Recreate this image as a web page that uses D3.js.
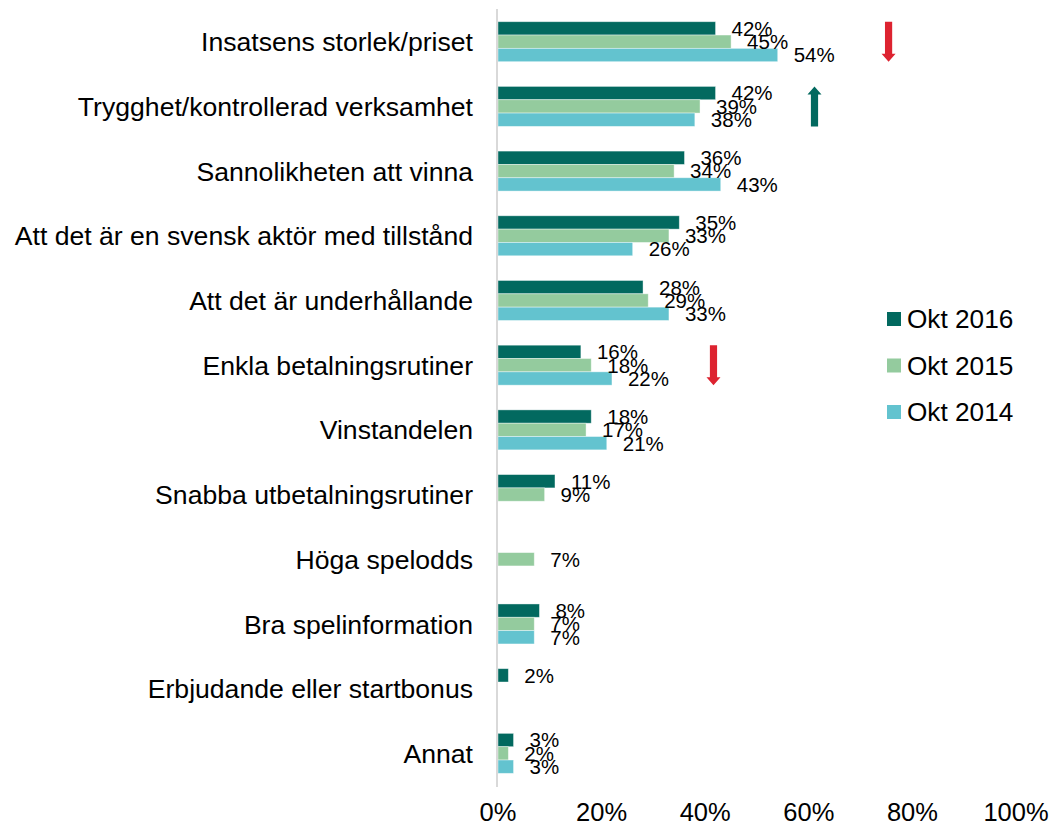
<!DOCTYPE html>
<html>
<head>
<meta charset="utf-8">
<script src="https://cdn.jsdelivr.net/npm/d3@7"></script>
<style>
  body { margin: 0; background: #fff; }
  svg text { font-family: "Liberation Sans", Arial, sans-serif; fill: #000; }
</style>
</head>
<body>
<div id="chart"></div>
<script>
// Data
const categories = [
  "Insatsens storlek/priset",
  "Trygghet/kontrollerad verksamhet",
  "Sannolikheten att vinna",
  "Att det är en svensk aktör med tillstånd",
  "Att det är underhållande",
  "Enkla betalningsrutiner",
  "Vinstandelen",
  "Snabba utbetalningsrutiner",
  "Höga spelodds",
  "Bra spelinformation",
  "Erbjudande eller startbonus",
  "Annat"
];
const seriesNames = ["Okt 2016", "Okt 2015", "Okt 2014"];
const okt2016 = [42, 42, 36, 35, 28, 16, 18, 11, null, 8, 2, 3];
const okt2015 = [45, 39, 34, 33, 29, 18, 17, 9, 7, 7, null, 2];
const okt2014 = [54, 38, 43, 26, 33, 22, 21, null, null, 7, null, 3];
const xTicks = [0, 20, 40, 60, 80, 100];
const colors = ["#02695f", "#94cb9e", "#63c3cf"];

// significance arrows: category, direction, horizontal spot in %
const arrows = [
  { cat: "Insatsens storlek/priset", dir: "down", at: 75.4 },
  { cat: "Trygghet/kontrollerad verksamhet", dir: "up", at: 61.1 },
  { cat: "Enkla betalningsrutiner", dir: "down", at: 41.6 }
];
const arrowColors = { up: "#02695f", down: "#dd2330" };

const width = 1052, height = 830;
const svg = d3.select("#chart").append("svg")
  .attr("width", width)
  .attr("height", height);

const x = d3.scaleLinear().domain([0, 100]).range([498, 1016]);
const y = d3.scaleBand().domain(categories).range([9.35, 785.7])
  .paddingInner(0.382).paddingOuter(0.191);
const ySub = d3.scaleBand().domain(seriesNames).range([0, y.bandwidth()]);

const series = [okt2016, okt2015, okt2014].map((vals, i) => ({
  name: seriesNames[i],
  color: colors[i],
  values: vals
}));

// bars
const groups = svg.append("g").selectAll("g")
  .data(categories)
  .join("g")
  .attr("transform", d => `translate(0,${y(d)})`);

groups.each(function(cat, ci) {
  const g = d3.select(this);
  const rows = series
    .map(s => ({ name: s.name, color: s.color, v: s.values[ci] }))
    .filter(r => r.v != null);

  g.selectAll("rect")
    .data(rows)
    .join("rect")
    .attr("x", x(0))
    .attr("y", r => ySub(r.name))
    .attr("width", r => x(r.v) - x(0))
    .attr("height", ySub.bandwidth())
    .attr("fill", r => r.color)
    .attr("stroke", "#ffffff")
    .attr("stroke-opacity", 0.5)
    .attr("stroke-width", 0.8);

  g.selectAll("text")
    .data(rows)
    .join("text")
    .attr("x", r => x(r.v) + 16)
    .attr("y", r => ySub(r.name) + ySub.bandwidth() / 2)
    .attr("dy", "0.36em")
    .attr("font-size", 20.5)
    .text(r => r.v + "%");
});

// vertical axis line
svg.append("line")
  .attr("x1", x(0) - 1).attr("x2", x(0) - 1)
  .attr("y1", 9).attr("y2", 787)
  .attr("stroke", "#d9d9d9")
  .attr("stroke-width", 2);

// category labels
svg.append("g").selectAll("text")
  .data(categories)
  .join("text")
  .attr("x", 473)
  .attr("y", d => y(d) + y.bandwidth() / 2)
  .attr("dy", "0.36em")
  .attr("text-anchor", "end")
  .attr("font-size", 26.6)
  .text(d => d);

// x tick labels
svg.append("g").selectAll("text")
  .data(xTicks)
  .join("text")
  .attr("x", d => x(d))
  .attr("y", 821)
  .attr("text-anchor", "middle")
  .attr("font-size", 25.5)
  .text(d => d + "%");

// legend
const legend = svg.append("g").selectAll("g")
  .data(series)
  .join("g")
  .attr("transform", (d, i) => `translate(887,${319 + i * 46.5})`);
legend.append("rect")
  .attr("x", 0).attr("y", -7)
  .attr("width", 14).attr("height", 14)
  .attr("fill", d => d.color);
legend.append("text")
  .attr("x", 20)
  .attr("y", 0)
  .attr("dy", "0.36em")
  .attr("font-size", 26.2)
  .text(d => d.name);

// arrows
svg.append("g").selectAll("path")
  .data(arrows)
  .join("path")
  .attr("fill", d => arrowColors[d.dir])
  .attr("d", d => {
    const cx = x(d.at);
    const top = y(d.cat);
    const bot = y(d.cat) + y.bandwidth();
    const sw = 3.6, hw = 7, hh = 8;
    if (d.dir === "down") {
      return `M${cx - sw},${top} L${cx + sw},${top} L${cx + sw},${bot - hh}
              L${cx + hw},${bot - hh} L${cx},${bot} L${cx - hw},${bot - hh}
              L${cx - sw},${bot - hh} Z`;
    }
    return `M${cx - sw},${bot} L${cx + sw},${bot} L${cx + sw},${top + hh}
            L${cx + hw},${top + hh} L${cx},${top} L${cx - hw},${top + hh}
            L${cx - sw},${top + hh} Z`;
  });
</script>
</body>
</html>
